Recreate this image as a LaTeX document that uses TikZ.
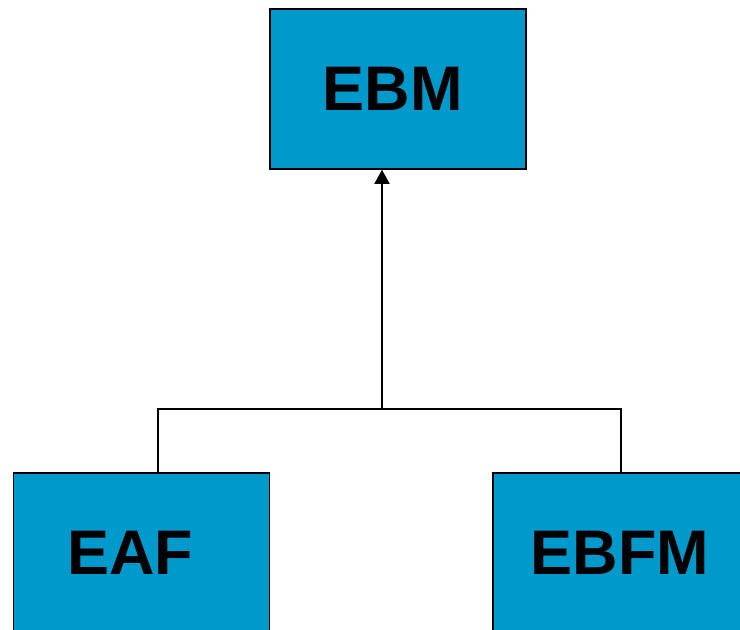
\documentclass[tikz,border=0pt]{standalone}
\usepackage{fontspec}
\setmainfont{Liberation Sans}
\usepackage{tikz}
\usetikzlibrary{arrows.meta,positioning}

\definecolor{boxblue}{RGB}{0,153,204}

\tikzset{
    unitbox/.style={draw=black, line width=1.5pt, fill=boxblue, minimum width=256pt, minimum height=160pt, inner sep=0pt},
    unitname/.style={font=\fontsize{63}{70}\selectfont\bfseries, text=black, inner sep=0pt},
    link/.style={line width=1.6pt, black}
}

\begin{document}
\begin{tikzpicture}[x=1pt,y=-1pt]
                \useasboundingbox (0,0) rectangle (740,630);
                \clip (0,0) rectangle (740,630);

                \node[unitbox, label={[unitname, xshift=-5.5pt]center:EBM}] (ebm) at (398,89) {};
                \node[unitbox, label={[unitname, xshift=-11.5pt]center:EAF}] (eaf) at (141.5,553) {};
                \node[unitbox, label={[unitname, xshift=-1pt]center:EBFM}] (ebfm) at (621,553) {};

                \coordinate (join) at (382,409);

                \draw[link] (eaf.north -| 158,0) |- (join);
                \draw[link] (ebfm.north) |- (join);
                \draw[link, -{Triangle[width=15pt,length=14pt]}] (join) -- (join |- ebm.south);
\end{tikzpicture}
\end{document}
